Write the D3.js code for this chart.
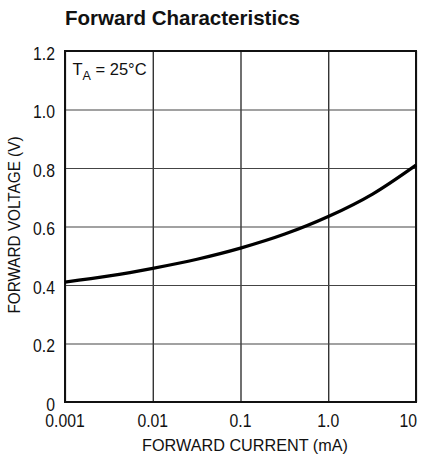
<!DOCTYPE html>
<html>
<head>
<meta charset="utf-8">
<script src="https://cdn.jsdelivr.net/npm/d3@7"></script>
<style>
  body { margin: 0; background: #fff; }
  text { font-family: "Liberation Sans", Arial, sans-serif; fill: #111; }
</style>
</head>
<body>
<svg id="chart" width="431" height="454"></svg>
<script>
// forward current (mA) vs forward voltage (V)
var currentMa = [0.001, 0.0032, 0.01, 0.032, 0.1, 0.32, 1.0, 3.2, 10];
var voltageV  = [0.410, 0.431, 0.457, 0.488, 0.526, 0.574, 0.634, 0.711, 0.810];

var xTicks = [0.001, 0.01, 0.1, 1, 10];
var xTickLabels = ["0.001", "0.01", "0.1", "1.0", "10"];
var yTicks = [0, 0.2, 0.4, 0.6, 0.8, 1.0, 1.2];
var yTickLabels = ["0", "0.2", "0.4", "0.6", "0.8", "1.0", "1.2"];

var svg = d3.select("#chart");
var plotL = 65, plotR = 416, plotT = 51, plotB = 402;

var x = d3.scaleLog().domain([0.001, 10]).range([plotL, plotR]);
var y = d3.scaleLinear().domain([0, 1.2]).range([plotB, plotT]);

// title
svg.append("text")
    .attr("x", 65)
    .attr("y", 25)
    .attr("font-size", 21)
    .attr("font-weight", "bold")
    .attr("textLength", 235)
    .attr("lengthAdjust", "spacingAndGlyphs")
    .text("Forward Characteristics");

// grid
svg.append("g")
    .attr("transform", "translate(0," + plotB + ")")
    .call(d3.axisBottom(x).tickValues(xTicks).tickSize(-(plotB - plotT)).tickFormat(""))
    .call(function(g) {
        g.select(".domain").remove();
        g.selectAll("line").attr("stroke", "#111").attr("stroke-width", 1.2);
    });

svg.append("g")
    .attr("transform", "translate(" + plotL + ",0)")
    .call(d3.axisLeft(y).tickValues(yTicks).tickSize(-(plotR - plotL)).tickFormat(""))
    .call(function(g) {
        g.select(".domain").remove();
        g.selectAll("line").attr("stroke", "#444").attr("stroke-width", 1.2);
    });

// frame
svg.append("rect")
    .attr("x", plotL).attr("y", plotT)
    .attr("width", plotR - plotL).attr("height", plotB - plotT)
    .attr("fill", "none").attr("stroke", "#111").attr("stroke-width", 2);

// tick labels (narrow face, so squeeze a little)
svg.selectAll(".xlab")
    .data(xTicks)
    .enter().append("text")
    .attr("class", "xlab")
    .attr("transform", function(d, i) {
        var px = i == xTicks.length - 1 ? x(d) + 1 : x(d);
        return "translate(" + px + ",426.5) scale(0.9,1)";
    })
    .attr("font-size", 17.5)
    .attr("text-anchor", function(d, i) { return i == xTicks.length - 1 ? "end" : "middle"; })
    .text(function(d, i) { return xTickLabels[i]; });

svg.selectAll(".ylab")
    .data(yTicks)
    .enter().append("text")
    .attr("class", "ylab")
    .attr("transform", function(d) { return "translate(55," + (y(d) + 8.5) + ") scale(0.9,1)"; })
    .attr("font-size", 17.5)
    .attr("text-anchor", "end")
    .text(function(d, i) { return yTickLabels[i]; });

// axis titles
svg.append("text")
    .attr("x", 245)
    .attr("y", 451)
    .attr("font-size", 16.3)
    .attr("text-anchor", "middle")
    .attr("textLength", 206)
    .attr("lengthAdjust", "spacingAndGlyphs")
    .text("FORWARD CURRENT (mA)");

svg.append("text")
    .attr("transform", "translate(20,225) rotate(-90)")
    .attr("font-size", 16.3)
    .attr("text-anchor", "middle")
    .attr("textLength", 177)
    .attr("lengthAdjust", "spacingAndGlyphs")
    .text("FORWARD VOLTAGE (V)");

// annotation
var note = svg.append("text")
    .attr("x", 72.5)
    .attr("y", 75)
    .attr("font-size", 16.5);
note.append("tspan").text("T");
note.append("tspan").attr("font-size", 12.5).attr("dy", 5).text("A");
note.append("tspan").attr("dy", -5).text(" = 25\u00b0C");

// curve
var line = d3.line()
    .x(function(d, i) { return x(currentMa[i]); })
    .y(function(d) { return y(d); })
    .curve(d3.curveMonotoneX);

svg.append("path")
    .datum(voltageV)
    .attr("d", line)
    .attr("fill", "none")
    .attr("stroke", "#000")
    .attr("stroke-width", 3.2);
</script>
</body>
</html>
